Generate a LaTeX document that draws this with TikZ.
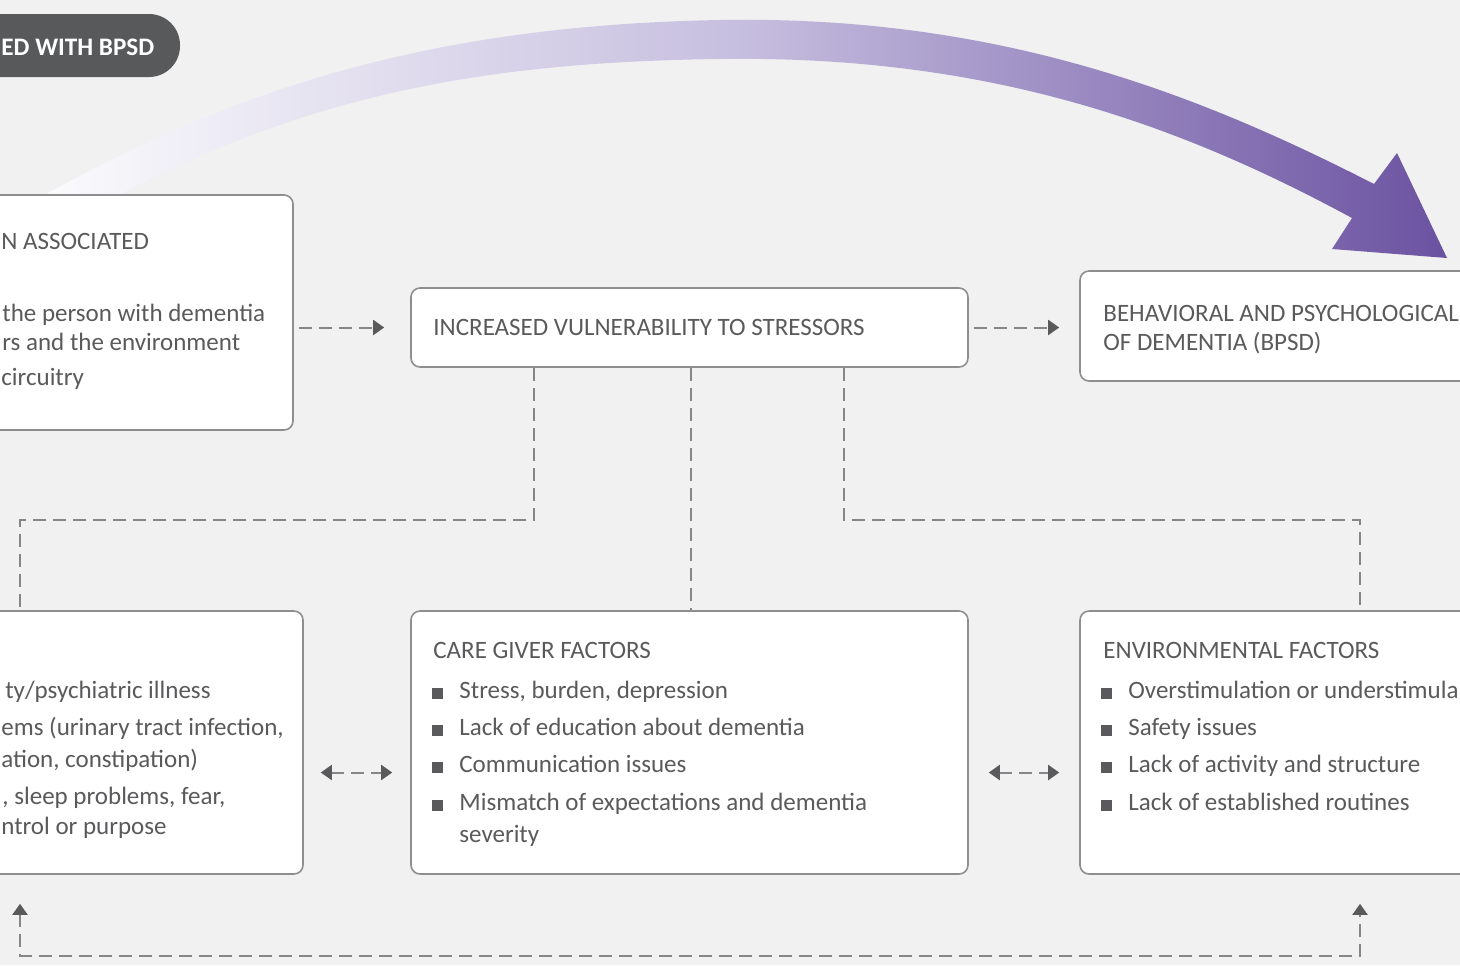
\documentclass[tikz,border=0pt]{standalone}
\usepackage{fontspec}
\setmainfont{Carlito}
\usetikzlibrary{arrows.meta,calc,fit}

\definecolor{paper}{HTML}{F0F1F0}
\definecolor{ink}{HTML}{5A5A5C}
\definecolor{frame}{HTML}{8E8E8E}
\definecolor{dashgray}{HTML}{868686}
\definecolor{tagfill}{HTML}{58595B}
\definecolor{violetA}{HTML}{FBFBFD}
\definecolor{violetB}{HTML}{C6BEDF}
\definecolor{violetC}{HTML}{6B52A1}

\tikzset{
  box/.style={draw=frame, fill=white, line width=0.8pt, rounded corners=4.5pt, inner sep=0pt},
  txt/.style={text=ink, font=\fontsize{12.5}{16}\selectfont, inner sep=0pt},
  link/.style={draw=dashgray, line width=1pt, dash pattern=on 6.5pt off 3.5pt},
  tip/.style={-{Triangle[length=5.5pt,width=7.5pt,color=ink]}},
  tips/.style={{Triangle[length=5.5pt,width=7.5pt,color=ink]}-{Triangle[length=5.5pt,width=7.5pt,color=ink]}},
  tag/.style={fill=tagfill, rounded corners=15.5pt, inner sep=0pt},
  tagtxt/.style={text=white, font=\fontsize{12.6}{16}\bfseries, inner sep=0pt}
}

\begin{document}
\begin{tikzpicture}[x=0.5pt, y=-0.5pt]

  \useasboundingbox (0,0) rectangle (1460,965);
  \clip (0,0) rectangle (1460,965);
  \fill[paper] (0,0) rectangle (1460,965);

  % --- big curved arrow ---
  \shade[left color=violetA, right color=violetC, middle color=violetB]
    (43,196) .. controls (250,80) and (450,25) .. (720,20)
    .. controls (1000,15) and (1200,95) .. (1374,184)
    -- (1397,153) -- (1447,258) -- (1332,249) -- (1352,218)
    .. controls (1180,125) and (990,55) .. (720,59)
    .. controls (470,62) and (300,100) .. (117,196) -- cycle;

  % --- label pill ---
  \node[tag, fit={(-120,14) (180,77)}] (tag) {};
  \node[tagtxt, anchor=base west] (tag0) at (1,55) {ED WITH BPSD};

  % --- top row ---
  \node[box, fit={(-300,195) (293,430)}] (assoc) {};
  \node[txt, anchor=base west] (assoc0) at (1,249) {N ASSOCIATED};
  \node[txt, anchor=base west] (assoc1) at (2,321) {the person with dementia};
  \node[txt, anchor=base west] (assoc2) at (2,350) {rs and the environment};
  \node[txt, anchor=base west] (assoc3) at (1,385) {circuitry};

  \node[box, fit={(411,288) (968,367)}] (incr) {};
  \node[txt, anchor=base west] (incr0) at (433,335) {INCREASED VULNERABILITY TO STRESSORS};

  \node[box, fit={(1080,271) (1560,381)}] (bpsd) {};
  \node[txt, anchor=base west] (bpsd0) at (1103,321) {BEHAVIORAL AND PSYCHOLOGICAL};
  \node[txt, anchor=base west] (bpsd1) at (1103,350) {OF DEMENTIA (BPSD)};

  % --- bottom row ---
  \node[box, fit={(-300,611) (303,874)}] (pers) {};
  \node[txt, anchor=base east] (pers1) at (211,698) {ty/psychiatric illness};
  \node[txt, anchor=base west] (pers2) at (1,735) {ems (urinary tract infection,};
  \node[txt, anchor=base west] (pers3) at (1,767) {ation, constipation)};
  \node[txt, anchor=base west] (pers4) at (2,804) {, sleep problems, fear,};
  \node[txt, anchor=base west] (pers5) at (1,834) {ntrol or purpose};

  \node[box, fit={(411,611) (968,874)}] (care) {};
  \node[txt, anchor=base west] (care0) at (433,658) {CARE GIVER FACTORS};
  \foreach \yy/\lbl [count=\i] in {698/{Stress, burden, depression},
      735/{Lack of education about dementia},
      772/{Communication issues},
      810/{Mismatch of expectations and dementia}} {
    \fill[ink] (432,\yy-10) rectangle ++(11,11);
    \node[txt, anchor=base west] (care\i) at (459,\yy) {\lbl};
  }
  \node[txt, anchor=base west] (care5) at (459,842) {severity};

  \node[box, fit={(1080,611) (1560,874)}] (env) {};
  \node[txt, anchor=base west] (env0) at (1103,658) {ENVIRONMENTAL FACTORS};
  \foreach \yy/\lbl [count=\i] in {698/{Overstimulation or understimula},
      735/{Safety issues},
      772/{Lack of activity and structure},
      810/{Lack of established routines}} {
    \fill[ink] (1101,\yy-10) rectangle ++(11,11);
    \node[txt, anchor=base west] (env\i) at (1128,\yy) {\lbl};
  }

  % --- dashed arrows, top row ---
  \draw[link, tip, shorten <=2.5pt, shorten >=13pt] (assoc.east |- incr.west) -- (incr.west);
  \draw[link, tip, shorten <=2.5pt, shorten >=10pt] (incr.east) -- (incr.east -| bpsd.west);

  % --- branches down to the factor boxes ---
  \coordinate (jl) at (20,520);
  \coordinate (jr) at (1360,520);
  \draw[link] ($(incr.south west)+(124,0)$) |- (jl) -- (jl |- pers.north);
  \draw[link] ($(incr.south west)+(281,0)$) -- ($(care.north west)+(281,0)$);
  \draw[link] ($(incr.south west)+(434,0)$) |- (jr) -- (jr |- env.north);

  % --- links between factors ---
  \draw[link, tips, shorten <=8.5pt, shorten >=9pt] ($(pers.east)+(0,30)$) -- ($(care.west)+(0,30)$);
  \draw[link, tips, shorten <=10pt, shorten >=10pt] ($(care.east)+(0,30)$) -- ($(env.west)+(0,30)$);

  % --- loop along the bottom ---
  \draw[link, tips, shorten <=14.5pt, shorten >=14.5pt]
    (jl |- pers.south) -- ++(0,81) -| (jr |- env.south);

\end{tikzpicture}
\end{document}
